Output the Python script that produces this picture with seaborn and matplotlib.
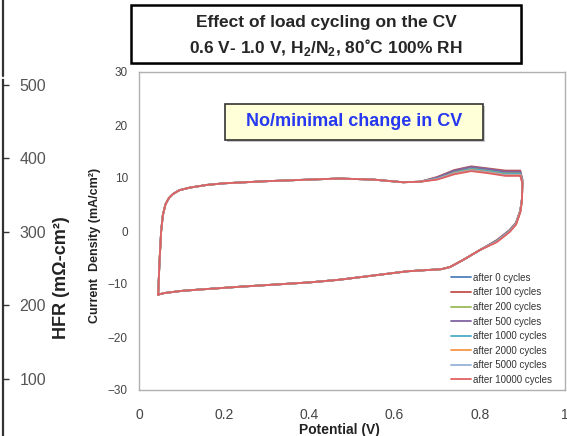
import matplotlib
matplotlib.use("Agg")
import matplotlib.pyplot as plt
from matplotlib.patches import Rectangle
import pandas as pd
import seaborn as sns

# ---- data -------------------------------------------------------------
cycle_labels = ["after 0 cycles", "after 100 cycles", "after 200 cycles",
                "after 500 cycles", "after 1000 cycles", "after 2000 cycles",
                "after 5000 cycles", "after 10000 cycles"]
line_colors = ["#4F81BD", "#C0504D", "#9BBB59", "#8064A2",
               "#4BACC6", "#F79646", "#95B3D7", "#E06060"]

# anodic sweep, double-layer region (common to all cycle counts)
potential_anodic_low = [0.045, 0.048, 0.052, 0.056, 0.062, 0.07, 0.08, 0.095,
                        0.12, 0.16, 0.2, 0.3, 0.4, 0.47, 0.55, 0.62, 0.66]
current_anodic_low = [-12.0, -6.0, 0.0, 3.0, 5.0, 6.2, 7.0, 7.7,
                      8.2, 8.7, 9.0, 9.4, 9.7, 9.9, 9.7, 9.2, 9.3]

# oxide peak and turn-around at the upper potential limit
potential_peak = [0.70, 0.74, 0.78, 0.82, 0.86, 0.895, 0.900, 0.899,
                  0.895, 0.885, 0.87, 0.84]
current_peak = {
    "after 0 cycles":     [10.0, 11.2, 11.9, 11.5, 11.0, 11.0, 9.4, 6.0, 3.8, 1.5, 0.1, -1.8],
    "after 100 cycles":   [10.2, 11.5, 12.2, 11.8, 11.4, 11.4, 9.7, 6.2, 3.9, 1.6, 0.2, -1.7],
    "after 200 cycles":   [10.0, 11.3, 12.0, 11.6, 11.1, 11.1, 9.5, 6.0, 3.8, 1.5, 0.1, -1.8],
    "after 500 cycles":   [10.1, 11.4, 12.1, 11.7, 11.2, 11.2, 9.6, 6.1, 3.8, 1.5, 0.1, -1.8],
    "after 1000 cycles":  [9.9, 11.0, 11.7, 11.3, 10.8, 10.8, 9.3, 5.9, 3.7, 1.4, 0.0, -1.9],
    "after 2000 cycles":  [9.8, 10.9, 11.5, 11.1, 10.6, 10.6, 9.2, 5.8, 3.6, 1.3, -0.1, -2.0],
    "after 5000 cycles":  [9.8, 10.8, 11.4, 11.0, 10.5, 10.5, 9.1, 5.8, 3.6, 1.3, -0.1, -2.0],
    "after 10000 cycles": [9.7, 10.7, 11.3, 10.9, 10.4, 10.4, 9.0, 5.7, 3.5, 1.2, -0.2, -2.1],
}

# cathodic sweep back to the lower limit
potential_cathodic = [0.80, 0.76, 0.73, 0.71, 0.67, 0.63, 0.55, 0.47,
                      0.40, 0.30, 0.24, 0.15, 0.10, 0.06, 0.045]
current_cathodic = [-3.6, -5.5, -6.8, -7.2, -7.4, -7.6, -8.4, -9.2,
                    -9.7, -10.2, -10.5, -11.0, -11.3, -11.7, -12.0]

hfr_ticks = [100, 200, 300, 400, 500]

# ---- long-form table ----------------------------------------------------
rows = []
for name in cycle_labels:
    pot = potential_anodic_low + potential_peak + potential_cathodic
    cur = current_anodic_low + current_peak[name] + current_cathodic
    for step, (p, c) in enumerate(zip(pot, cur)):
        rows.append({"series": name, "step": step, "potential": p, "current": c})
df = pd.DataFrame(rows)

# ---- style --------------------------------------------------------------
sns.set_style("white")
plt.rcParams["font.family"] = ["Liberation Sans", "DejaVu Sans"]
plt.rcParams["mathtext.fontset"] = "custom"
plt.rcParams["mathtext.rm"] = "Liberation Sans"
plt.rcParams["mathtext.bf"] = "Liberation Sans:bold"

W, H = 567, 436
fig = plt.figure(figsize=(W / 100, H / 100), dpi=100)

def fx(px):
    return px / W

def fy(py):
    return 1 - py / H

# ---- CV axes ------------------------------------------------------------
ax = fig.add_axes([fx(139), fy(390), fx(565) - fx(139), fy(72) - fy(390)])
sns.lineplot(data=df, x="potential", y="current", hue="series",
             hue_order=cycle_labels, palette=line_colors, sort=False,
             estimator=None, units="series", linewidth=1.3, ax=ax)

ax.set_xlim(0, 1)
ax.set_ylim(-30, 30)
ax.set_xticks([0, 0.2, 0.4, 0.6, 0.8, 1.0])
ax.set_xticklabels(["0", "0.2", "0.4", "0.6", "0.8", "1"])
ax.set_yticks([-30, -20, -10, 0, 10, 20, 30])
for s in ax.spines.values():
    s.set_color("#B0B0B0")
    s.set_linewidth(1.0)
ax.tick_params(axis="x", direction="out", length=4, width=0.8, color="#B0B0B0",
               labelsize=10, labelcolor="#444444", pad=9)
ax.tick_params(axis="y", direction="out", length=4, width=0.8, color="#B0B0B0",
               labelsize=8.5, labelcolor="#444444", pad=4)
ax.set_xlabel("")
ax.set_ylabel("")

handles, labels = ax.get_legend_handles_labels()
ax.legend(handles, labels, loc="lower right", bbox_to_anchor=(0.985, -0.005),
          frameon=False, fontsize=7, handlelength=2.0, handletextpad=0.2,
          labelspacing=0.47, borderpad=0.2, labelcolor="#333333")

fig.text(fx(339), fy(430), "Potential (V)", ha="center", va="center",
         fontsize=10, fontweight="bold", color="#222222")
fig.text(fx(95), fy(245), "Current  Density (mA/cm²)", ha="center", va="center",
         rotation=90, fontsize=9, fontweight="bold", color="#222222")

# ---- HFR axis at the left edge -----------------------------------------
axh = fig.add_axes([fx(3), 0, 0.0001, fy(80)])
axh.set_ylim(22.4, 506.8)
axh.set_xticks([])
axh.set_yticks(hfr_ticks)
axh.yaxis.tick_right()
for side in ["left", "top", "bottom"]:
    axh.spines[side].set_visible(False)
axh.spines["right"].set_color("#333333")
axh.spines["right"].set_linewidth(1.6)
axh.tick_params(axis="y", direction="out", length=4, width=1.0, color="#333333",
                labelsize=11.5, labelcolor="#555555", pad=8)
axh.patch.set_alpha(0)
fig.text(fx(62), fy(278), "HFR (mΩ-cm²)", ha="center", va="center",
         rotation=90, fontsize=13, fontweight="bold", color="#222222")
fig.add_artist(plt.Line2D([fx(2.5), fx(2.5)], [fy(0), fy(76)],
                          transform=fig.transFigure, color="#333333", lw=1.6))

# ---- title box ----------------------------------------------------------
fig.add_artist(Rectangle((fx(133), fy(65)), fx(521) - fx(131), fy(5) - fy(63),
                         transform=fig.transFigure, facecolor="#BBBBBB",
                         edgecolor="none", zorder=5))
fig.add_artist(Rectangle((fx(131), fy(63)), fx(521) - fx(131), fy(5) - fy(63),
                         transform=fig.transFigure, facecolor="white",
                         edgecolor="black", lw=1.8, zorder=6))
fig.text(fx(326), fy(23), "Effect of load cycling on the CV", ha="center",
         va="center", fontsize=12.5, fontweight="bold", zorder=7)
fig.text(fx(326), fy(47), r"0.6 V- 1.0 V, H$_\mathbf{2}$/N$_\mathbf{2}$, 80˚C 100% RH",
         ha="center", va="center", fontsize=12.5, fontweight="bold", zorder=7)

# ---- callout box --------------------------------------------------------
fig.add_artist(Rectangle((fx(227), fy(142)), fx(483) - fx(225), fy(104) - fy(140),
                         transform=fig.transFigure, facecolor="#C8C8C8",
                         edgecolor="none", zorder=5))
fig.add_artist(Rectangle((fx(225), fy(140)), fx(483) - fx(225), fy(104) - fy(140),
                         transform=fig.transFigure, facecolor="#FFFFD8",
                         edgecolor="#333333", lw=1.2, zorder=6))
fig.text(fx(354), fy(122), "No/minimal change in CV", ha="center", va="center",
         fontsize=13, fontweight="bold", color="#2638F0", zorder=7)

fig.savefig("out.png", dpi=100)
